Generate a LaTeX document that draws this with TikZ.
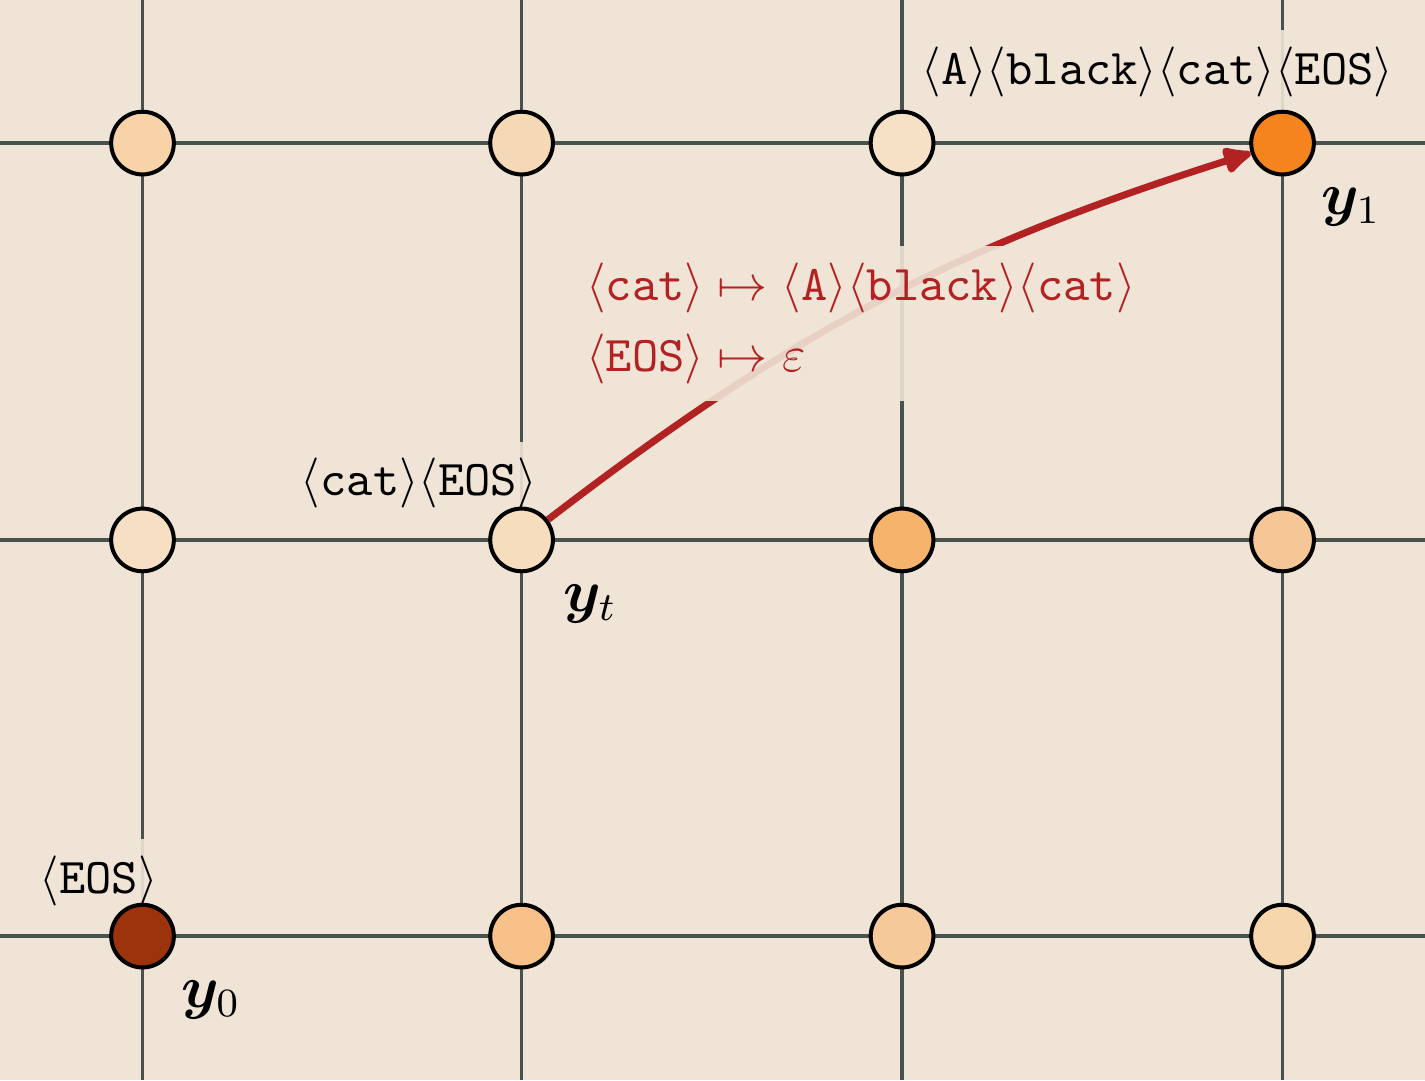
\documentclass[tikz,border=0pt]{standalone}
\usepackage{amsmath}
\usepackage{bm}
\usetikzlibrary{arrows.meta, positioning}
\definecolor{paper}{HTML}{F0E4D7}
\definecolor{gridgray}{HTML}{47524E}
\definecolor{rulered}{HTML}{B22222}
\definecolor{c00}{HTML}{9C330B}
\definecolor{c01}{HTML}{F7DFC3}
\definecolor{c02}{HTML}{F8D3A7}
\definecolor{c10}{HTML}{F7C189}
\definecolor{c11}{HTML}{F6DDBE}
\definecolor{c12}{HTML}{F5D9B7}
\definecolor{c20}{HTML}{F5C99A}
\definecolor{c21}{HTML}{F5B36C}
\definecolor{c22}{HTML}{F6E0C6}
\definecolor{c30}{HTML}{F6D6AD}
\definecolor{c31}{HTML}{F5C796}
\definecolor{c32}{HTML}{F5841F}
\newcommand{\tok}[1]{\langle\texttt{#1}\rangle}
\pgfdeclarelayer{grid}
\pgfdeclarelayer{labels}
\pgfsetlayers{grid,labels,main}

\begin{document}
\begin{tikzpicture}[
		gridline/.style={draw=gridgray,line width=0.7pt},
		state/.style={draw=black,circle,line width=0.8pt,minimum size=0.44cm,inner sep=0pt},
		tokbox/.style={fill=paper,fill opacity=0.9,text opacity=1,inner sep=0.333em},
		rulebox/.style={tokbox,text=rulered,align=left},
		ylbl/.style={font=\large}
		]
		\useasboundingbox (0,0) rectangle (10,7.579);
		\begin{pgfonlayer}{grid}
			\fill[paper] (0,0) rectangle (10,7.579);
			\foreach \x in {1,3.66,6.33,9} \draw[gridline] (\x,0) -- (\x,7.579);
			\foreach \y in {1.01,3.79,6.575} \draw[gridline] (0,\y) -- (10,\y);
		\end{pgfonlayer}
		\foreach \i/\x in {0/1,1/3.66,2/6.33,3/9}
			\foreach \j/\y in {0/1.01,1/3.79,2/6.575}
				\node (n\i\j) [state,fill=c\i\j] at (\x,\y) {};
		\draw [-{Latex[round,length=7pt,width=6.5pt]},rulered,line width=1.4pt] (n11) to[bend left=10] (n32);
		\node (rules) [rulebox,anchor=north west] at (3.99,5.86) {$\tok{cat}\mapsto\tok{A}\tok{black}\tok{cat}$\\[2.2pt] $\tok{EOS}\mapsto\varepsilon$};
		\begin{pgfonlayer}{labels}
			\node (l00) [tokbox,anchor=base east] at ([shift={(0.23,0.30)}]n00) {$\tok{EOS}$};
			\node (l11) [tokbox,anchor=base east] at ([shift={(0.23,0.31)}]n11) {$\tok{cat}\tok{EOS}$};
			\node (l32) [tokbox,anchor=base east] at ([shift={(0.9,0.41)}]n32) {$\tok{A}\tok{black}\tok{cat}\tok{EOS}$};
		\end{pgfonlayer}
		\node (y0) [ylbl] at ([shift={(0.48,-0.45)}]n00) {$\bm{y}_0$};
		\node (yt) [ylbl] at ([shift={(0.48,-0.45)}]n11) {$\bm{y}_t$};
		\node (y1) [ylbl] at ([shift={(0.48,-0.45)}]n32) {$\bm{y}_1$};
	\end{tikzpicture}
\end{document}
